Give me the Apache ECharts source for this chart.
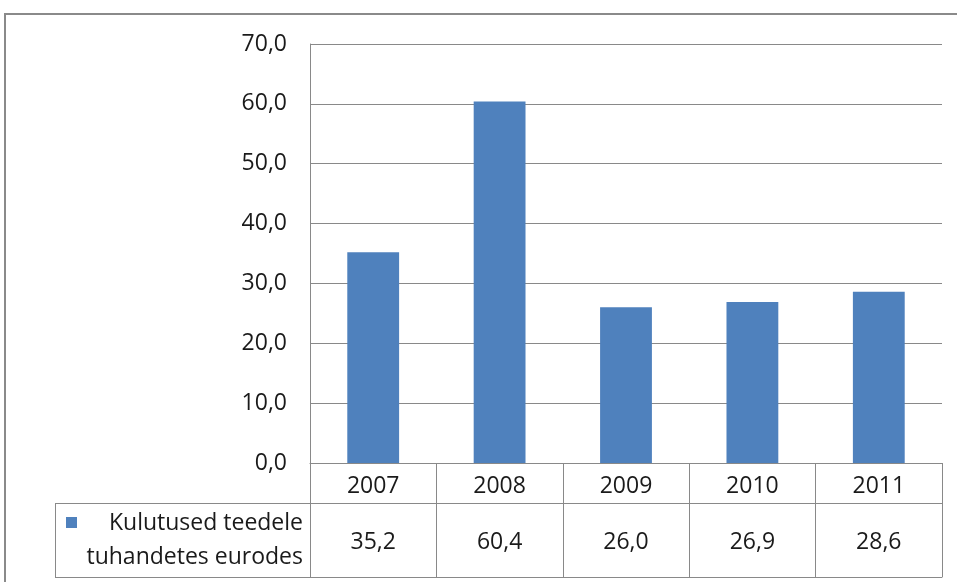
<!DOCTYPE html>
<html>
<head>
<meta charset="utf-8">
<script src="https://cdn.jsdelivr.net/npm/echarts@6/dist/echarts.min.js"></script>
<style>html,body{margin:0;padding:0;background:#fff}#c{width:957px;height:582px}</style>
</head>
<body>
<div id="c"></div>
<script>
const years = ['2007', '2008', '2009', '2010', '2011'];
const values = [35.2, 60.4, 26.0, 26.9, 28.6];
const seriesName = 'Kulutused teedele tuhandetes eurodes';
const legendLines = ['Kulutused teedele', 'tuhandetes eurodes'];
const yTicks = { min: 0, max: 70, interval: 10 };

const fmt = v => v.toFixed(1).replace('.', ',');
const FONT = 'Open Sans';
const FS = 23;
const GRID = '#898989';
const TXT = '#1a1a1a';
const chart = echarts.init(document.getElementById('c'));

const option = {
  animation: false,
  textStyle: { fontFamily: FONT },
  grid: { left: 310, right: 15, top: 44, bottom: 119, containLabel: false },
  xAxis: [
    {
      type: 'category', data: years, position: 'bottom',
      axisLine: { show: true, lineStyle: { color: GRID, width: 1 } },
      axisTick: { show: true, length: 40, interval: 0, lineStyle: { color: GRID } },
      axisLabel: { show: true, margin: 12, fontSize: FS, color: TXT, fontFamily: FONT }
    },
    {
      type: 'category', data: values.map(fmt), position: 'bottom', offset: 40,
      axisLine: { show: true, lineStyle: { color: GRID, width: 1 } },
      axisTick: { show: true, length: 74, interval: 0, lineStyle: { color: GRID } },
      axisLabel: { show: true, margin: 28, fontSize: FS, color: TXT, fontFamily: FONT }
    },
    {
      type: 'category', data: years, position: 'bottom', offset: 114,
      axisLine: { show: true, lineStyle: { color: GRID, width: 1 } },
      axisTick: { show: false }, axisLabel: { show: false }
    }
  ],
  yAxis: {
    type: 'value', min: yTicks.min, max: yTicks.max, interval: yTicks.interval,
    axisLine: { show: true, lineStyle: { color: GRID } },
    axisTick: { show: false },
    axisLabel: { margin: 23, fontSize: FS, color: TXT, fontFamily: FONT, formatter: v => fmt(v) },
    splitLine: { show: true, lineStyle: { color: GRID, width: 1 } }
  },
  series: [{
    name: seriesName, type: 'bar', data: values, xAxisIndex: 0,
    barWidth: '41%', itemStyle: { color: '#4F81BD' }
  }],
  graphic: []
};
chart.setOption(option);

const yZero = chart.convertToPixel({ yAxisIndex: 0 }, 0);
const gridLeft = 310;
const row1 = yZero + 40, row2 = yZero + 114;
const cellLeft = 55;
chart.setOption({
  graphic: [
    { type: 'rect', shape: { x: 5, y: 14, width: 1200, height: 1200 }, style: { fill: null, stroke: '#8a8a8a', lineWidth: 2 }, silent: true },
    { type: 'line', shape: { x1: cellLeft, y1: row1 + 0.5, x2: gridLeft, y2: row1 + 0.5 }, style: { stroke: GRID, lineWidth: 1 } },
    { type: 'line', shape: { x1: cellLeft, y1: row2 + 0.5, x2: gridLeft, y2: row2 + 0.5 }, style: { stroke: GRID, lineWidth: 1 } },
    { type: 'line', shape: { x1: cellLeft + 0.5, y1: row1, x2: cellLeft + 0.5, y2: row2 }, style: { stroke: GRID, lineWidth: 1 } },
    { type: 'rect', shape: { x: 66, y: row1 + 14, width: 11, height: 11 }, style: { fill: '#4F81BD' } },
    { type: 'text', x: 303, y: row1 + 20, style: { text: legendLines[0], font: FS + 'px "' + FONT + '"', fill: TXT, textAlign: 'right', textVerticalAlign: 'middle' } },
    { type: 'text', x: 303, y: row1 + 54, style: { text: legendLines[1], font: FS + 'px "' + FONT + '"', fill: TXT, textAlign: 'right', textVerticalAlign: 'middle' } }
  ]
});
</script>
</body>
</html>
